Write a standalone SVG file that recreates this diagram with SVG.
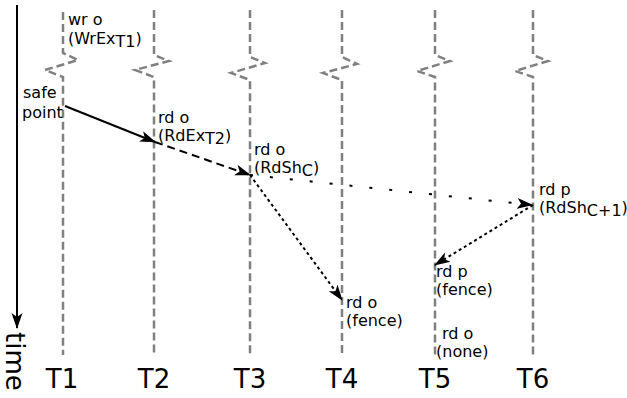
<svg xmlns="http://www.w3.org/2000/svg" width="627" height="398" viewBox="0 0 627 398">
<style>
.lane{fill:none;stroke:#808080;stroke-width:2.5;stroke-dasharray:8,4}
.lbl{font-family:"DejaVu Sans",sans-serif;font-size:16px;fill:#000}
.tl{font-family:"DejaVu Sans",sans-serif;font-size:26px;fill:#000;text-anchor:middle}
.c{fill:none;stroke:#000;stroke-width:2}
.dash{stroke-dasharray:8,5}
.sparse{stroke-dasharray:3,17}
.dense{stroke-dasharray:3,3}
</style>
<defs>
<marker id="ah" viewBox="0 0 16 12" refX="15" refY="6" markerWidth="16" markerHeight="12" markerUnits="userSpaceOnUse" orient="auto">
<path d="M0,0.5 L16,6 L0,11.5 L4,6 Z" fill="#000"/>
</marker>
</defs>
<g id="time-axis">
<line x1="17" y1="5" x2="17" y2="328" stroke="#000" stroke-width="2" marker-end="url(#ah)"/>
<text class="tl" transform="translate(6,332) rotate(90)" style="text-anchor:start">time</text>
</g>
<g id="T1">
<path class="lane" d="M63,12 V53 L78,60 L45,70 L63,77 V355"/>
<text class="tl" x="62" y="388">T1</text>
<text class="lbl" x="68" y="25">wr o</text>
<text class="lbl" x="68" y="44">(WrEx<tspan dy="3">T1</tspan><tspan dy="-3">)</tspan></text>
<text class="lbl" x="23" y="98">safe</text>
<text class="lbl" x="22" y="118">point</text>
</g>
<g id="T2">
<path class="lane" d="M154,10 V55 L169,61 L135,70 L154,77 V355"/>
<text class="tl" x="154" y="388">T2</text>
<text class="lbl" x="158" y="123">rd o</text>
<text class="lbl" x="158" y="141">(RdEx<tspan dy="3">T2</tspan><tspan dy="-3">)</tspan></text>
</g>
<g id="T3">
<path class="lane" d="M250,10 V57 L265,63 L231,73 L250,80 V355"/>
<text class="tl" x="250" y="388">T3</text>
<text class="lbl" x="254" y="155">rd o</text>
<text class="lbl" x="254" y="173">(RdSh<tspan dy="3">C</tspan><tspan dy="-3">)</tspan></text>
</g>
<g id="T4">
<path class="lane" d="M342,10 V57 L357,64 L323,73 L342,80 V355"/>
<text class="tl" x="342" y="388">T4</text>
<text class="lbl" x="346" y="308">rd o</text>
<text class="lbl" x="346" y="326">(fence)</text>
</g>
<g id="T5">
<path class="lane" d="M435,10 V55 L450,61 L417,71 L435,77 V355"/>
<text class="tl" x="435" y="388">T5</text>
<text class="lbl" x="436" y="277">rd p</text>
<text class="lbl" x="436" y="295">(fence)</text>
<text class="lbl" x="442" y="339">rd o</text>
<text class="lbl" x="436" y="357">(none)</text>
</g>
<g id="T6">
<path class="lane" d="M533,10 V55 L548,61 L515,71 L533,77 V355"/>
<text class="tl" x="533" y="388">T6</text>
<text class="lbl" x="539" y="195">rd p</text>
<text class="lbl" x="539" y="213">(RdSh<tspan dy="3">C+1</tspan><tspan dy="-3">)</tspan></text>
</g>
<g id="connectors">
<line class="c" x1="65" y1="106" x2="155" y2="142" marker-end="url(#ah)"/>
<line class="c dash" x1="155" y1="142" x2="250" y2="175" marker-end="url(#ah)"/>
<line class="c sparse" x1="250" y1="175" x2="532" y2="205" marker-end="url(#ah)"/>
<line class="c dense" x1="250" y1="175" x2="342" y2="300" marker-end="url(#ah)"/>
<line class="c dense" x1="533" y1="205" x2="435" y2="265" marker-end="url(#ah)"/>
</g>
</svg>
